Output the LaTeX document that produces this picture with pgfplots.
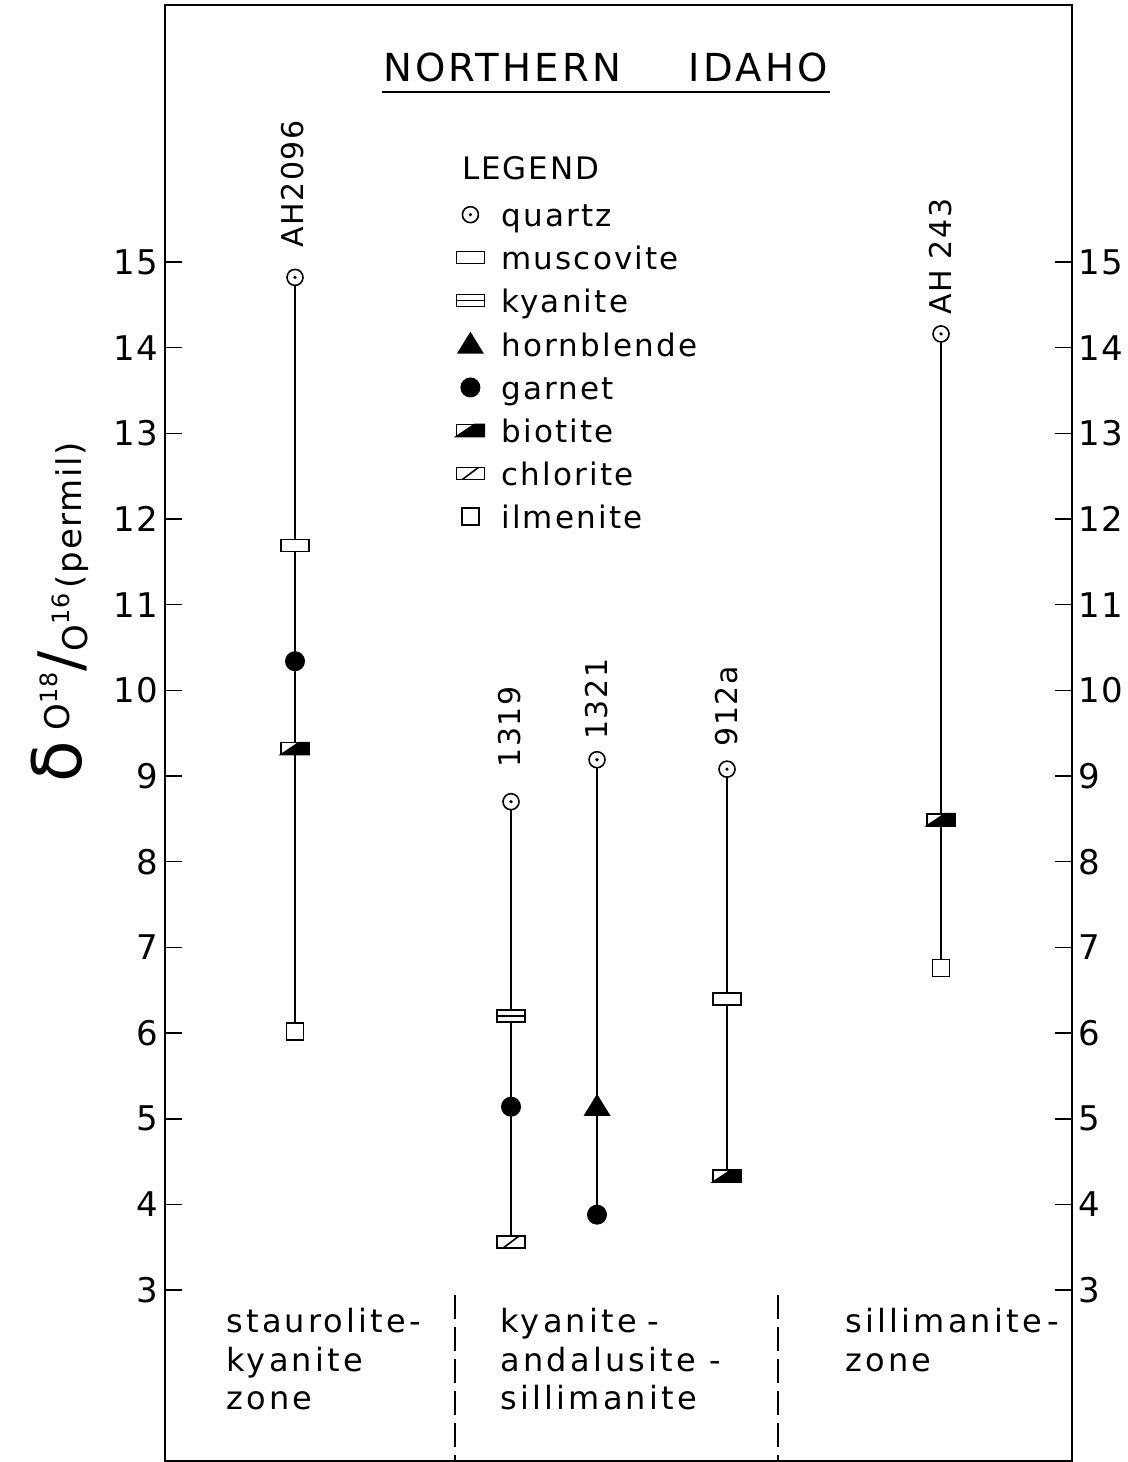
\documentclass[border=0pt]{standalone}
\usepackage{fontspec}
\setmainfont{DejaVu Sans}[LetterSpace=5]
\usepackage{pgfplots}
\pgfplotsset{compat=1.18}

% custom marks
\pgfdeclareplotmark{qz}{%
  \pgfpathcircle{\pgfpointorigin}{4pt}%
  \pgfsetfillcolor{white}\pgfusepath{fill,stroke}%
  \pgfpathcircle{\pgfpointorigin}{0.9pt}%
  \pgfsetfillcolor{black}\pgfusepath{fill}}
\pgfdeclareplotmark{mu}{%
  \pgfpathrectangle{\pgfpoint{-7pt}{-3pt}}{\pgfpoint{14pt}{6pt}}%
  \pgfsetfillcolor{white}\pgfusepath{fill,stroke}}
\pgfdeclareplotmark{ky}{%
  \pgfpathrectangle{\pgfpoint{-7pt}{-3pt}}{\pgfpoint{14pt}{6pt}}%
  \pgfsetfillcolor{white}\pgfusepath{fill,stroke}%
  \pgfpathmoveto{\pgfpoint{-7pt}{0pt}}\pgfpathlineto{\pgfpoint{7pt}{0pt}}%
  \pgfusepath{stroke}}
\pgfdeclareplotmark{bi}{%
  \pgfpathrectangle{\pgfpoint{-7pt}{-3pt}}{\pgfpoint{14pt}{6pt}}%
  \pgfsetfillcolor{white}\pgfusepath{fill,stroke}%
  \pgfpathmoveto{\pgfpoint{-7pt}{-3pt}}\pgfpathlineto{\pgfpoint{7pt}{-3pt}}%
  \pgfpathlineto{\pgfpoint{7pt}{3pt}}\pgfpathlineto{\pgfpoint{2pt}{3pt}}%
  \pgfpathclose\pgfsetfillcolor{black}\pgfusepath{fill,stroke}}
\pgfdeclareplotmark{ch}{%
  \pgfpathrectangle{\pgfpoint{-7pt}{-3pt}}{\pgfpoint{14pt}{6pt}}%
  \pgfsetfillcolor{white}\pgfusepath{fill,stroke}%
  \pgfpathmoveto{\pgfpoint{-4pt}{-3pt}}\pgfpathlineto{\pgfpoint{4pt}{3pt}}%
  \pgfusepath{stroke}}
\pgfdeclareplotmark{il}{%
  \pgfpathrectangle{\pgfpoint{-4.25pt}{-4.25pt}}{\pgfpoint{8.5pt}{8.5pt}}%
  \pgfsetfillcolor{white}\pgfusepath{fill,stroke}}
\pgfdeclareplotmark{ga}{%
  \pgfpathcircle{\pgfpointorigin}{5pt}%
  \pgfsetfillcolor{black}\pgfusepath{fill}}
\pgfdeclareplotmark{hb}{%
  \pgfpathmoveto{\pgfpoint{-6.75pt}{-4.6pt}}\pgfpathlineto{\pgfpoint{6.75pt}{-4.6pt}}%
  \pgfpathlineto{\pgfpoint{0pt}{6.4pt}}\pgfpathclose
  \pgfsetfillcolor{black}\pgfusepath{fill}}

\begin{document}
\begin{tikzpicture}
\begin{axis}[
  scale only axis, width=453.5pt, height=728.2pt,
  xmin=165, xmax=1072, ymin=1, ymax=18,
  xtick=\empty,
  ytick={3,4,...,15},
  ytick pos=left,
  tick align=inside,
  major tick length=8.5pt,
  tick style={line width=0.8pt, black},
  axis line style={line width=1pt},
  /pgf/number format/assume math mode=true,
  yticklabel style={font=\fontsize{17}{20}\selectfont, inner xsep=3pt},
  clip=false,
  legend cell align=left,
  legend image code/.code={%
    \path[draw=none, fill=none] (-8pt,-4.5pt) rectangle (8pt,7.5pt);
    \draw[#1] plot coordinates {(0pt,1.5pt)};},
  legend style={at={(axis cs:454,15.697)}, anchor=north west,
    draw=none, fill=none, inner sep=0pt,
    font=\fontsize{15.5}{18}\selectfont\addfontfeature{LetterSpace=7},
    row sep=6.5pt, column sep=7.5pt,
    nodes={inner sep=0pt, text height=12pt, text depth=3pt}},
]
% sample columns
\addplot[line width=0.8pt, forget plot] coordinates {(295,14.82) (295,6.02)};
\addplot[line width=0.8pt, forget plot] coordinates {(511,8.70) (511,3.56)};
\addplot[line width=0.8pt, forget plot] coordinates {(597,9.19) (597,3.88)};
\addplot[line width=0.8pt, forget plot] coordinates {(727,9.08) (727,4.33)};
\addplot[line width=0.8pt, forget plot] coordinates {(941,14.16) (941,6.76)};
% zone dividers
\addplot[line width=0.8pt, dash pattern=on 12pt off 4pt, forget plot] coordinates {(455,2.94) (455,1)};
\addplot[line width=0.8pt, dash pattern=on 12pt off 4pt, forget plot] coordinates {(778,2.94) (778,1)};
% minerals
\addplot[only marks, mark=qz, line width=0.8pt] coordinates {(295,14.82) (511,8.70) (597,9.19) (727,9.08) (941,14.16)};
\addlegendentry{quartz}
\addplot[only marks, mark=mu, line width=0.8pt] coordinates {(295,11.69) (727,6.40)};
\addlegendentry{muscovite}
\addplot[only marks, mark=ky, line width=0.8pt] coordinates {(511,6.20)};
\addlegendentry{kyanite}
\addplot[only marks, mark=hb, line width=0.8pt] coordinates {(597,5.14)};
\addlegendentry{hornblende}
\addplot[only marks, mark=ga, line width=0.8pt] coordinates {(295,10.34) (511,5.14) (597,3.88)};
\addlegendentry{garnet}
\addplot[only marks, mark=bi, line width=0.8pt] coordinates {(295,9.32) (727,4.33) (941,8.49)};
\addlegendentry{biotite}
\addplot[only marks, mark=ch, line width=0.8pt] coordinates {(511,3.56)};
\addlegendentry{chlorite}
\addplot[only marks, mark=il, line width=0.8pt] coordinates {(295,6.02) (941,6.76)};
\addlegendentry{ilmenite}

% texts
\node[anchor=west, inner sep=0pt, font=\fontsize{15.5}{18}\selectfont\addfontfeature{LetterSpace=6}] at (axis cs:462,16.097) {LEGEND};
\node[font=\fontsize{19.3}{21}\selectfont\addfontfeature{LetterSpace=8}] at (axis cs:605.5,17.265) {NORTHERN\hspace{34pt}IDAHO};
\draw[line width=0.8pt] (axis cs:382,16.984) -- (axis cs:830,16.984);

\begin{scope}[every node/.style={rotate=90, anchor=west, inner sep=0pt, font=\fontsize{15}{17}\selectfont}]
\node at (axis cs:293,15.163) {AH2096};
\node at (axis cs:510,9.094) {1319};
\node at (axis cs:597,9.42) {1321};
\node at (axis cs:727,9.339) {912a};
\node at (axis cs:941,14.381) {AH 243};
\end{scope}

\begin{scope}[every node/.style={anchor=north west, inner sep=0pt, align=left, font=\fontsize{16}{19.3}\selectfont\addfontfeature{LetterSpace=10}}]
\node at (axis cs:226,2.79) {staurolite-\\kyanite\\zone};
\node at (axis cs:500,2.79) {kyanite\,\,-\\andalusite -\\sillimanite};
\node at (axis cs:845,2.79) {sillimanite\,-\\zone};
\end{scope}

\node[rotate=90, inner sep=0pt, font=\fontsize{17}{20}\selectfont] at (axis cs:60,10.914)
  {{\fontsize{34}{34}\selectfont δ}\hspace{5pt}\raisebox{6pt}{O\textsuperscript{18}}{\fontsize{30}{30}\selectfont /}\raisebox{-3pt}{O}\textsuperscript{16}\hspace{2pt}(permil)};

\coordinate (bbSW) at (axis cs:0,0.993);
\coordinate (bbNE) at (axis cs:1127,18.058);
\end{axis}
\begin{axis}[
  scale only axis, width=453.5pt, height=728.2pt,
  xmin=165, xmax=1072, ymin=1, ymax=18,
  hide x axis,
  axis y line*=right,
  ytick={3,4,...,15},
  tick align=inside,
  major tick length=8.5pt,
  tick style={line width=0.8pt, black},
  axis line style={line width=1pt},
  /pgf/number format/assume math mode=true,
  yticklabel style={font=\fontsize{17}{20}\selectfont, inner xsep=3pt},
]
\addplot[draw=none] coordinates {(600,5)};
\end{axis}
\pgfresetboundingbox
\path[use as bounding box] (bbSW) rectangle (bbNE);
\end{tikzpicture}
\end{document}
